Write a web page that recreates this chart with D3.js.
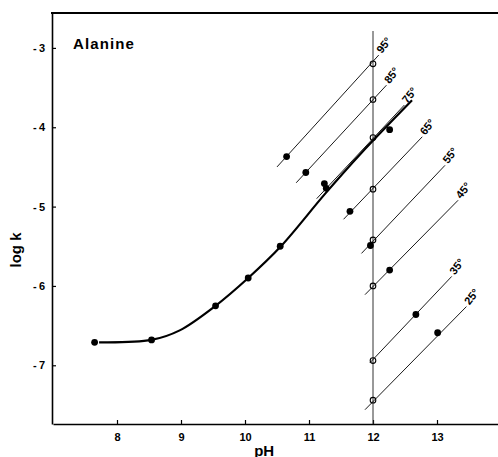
<!DOCTYPE html>
<html>
<head>
<meta charset="utf-8">
<script src="https://cdn.jsdelivr.net/npm/d3@7"></script>
<style>
  body { margin: 0; background: #fff; }
  svg { display: block; }
  text { font-family: "Liberation Sans", Arial, sans-serif; font-weight: bold; fill: #000; }
</style>
</head>
<body>
<div class="chart"></div>
<script>
'use strict';

// fitted curve
var curvePH   = [7.72, 8.54, 8.98, 9.54, 10.05, 10.55, 11.25, 11.80, 12.61];
var curveLogK = [-6.71, -6.68, -6.56, -6.25, -5.90, -5.51, -4.84, -4.34, -3.66];

// measured points (filled circles)
var pointPH   = [7.65, 8.54, 9.54, 10.05, 10.55, 11.24, 11.27, 10.65, 10.95, 11.64, 12.26, 11.96, 12.26, 12.67, 13.01];
var pointLogK = [-6.71, -6.68, -6.25, -5.90, -5.50, -4.71, -4.77, -4.37, -4.57, -5.06, -4.03, -5.49, -5.80, -6.36, -6.59];

// temperature lines
var temps      = ['95°', '85°', '75°', '65°', '55°', '45°', '35°', '25°'];
var lineFromPH = [10.50, 10.80, 11.12, 11.54, 11.82, 11.875, 11.95, 11.875];
var lineFromK  = [-4.50, -4.70, -4.90, -5.16, -5.59, -6.11, -6.97, -7.56];
var lineToPH   = [12.09, 12.21, 12.49, 12.77, 13.125, 13.33, 13.23, 13.46];
var lineToK    = [-3.09, -3.47, -3.72, -4.12, -4.48, -4.92, -5.88, -6.26];
// extrapolated values at pH 12 (open circles)
var openLogK   = [-3.20, -3.65, -4.13, -4.78, -5.42, -6.00, -6.94, -7.44];

var xTicks = [8, 9, 10, 11, 12, 13];
var yTicks = [-3, -4, -5, -6, -7];

var width = 498, height = 457;

var x = d3.scaleLinear().domain([7, 14]).range([53, 501]);
var y = d3.scaleLinear().domain([-7.74, -2.56]).range([424, 13]);

var svg = d3.select('div.chart').append('svg')
    .attr('width', width)
    .attr('height', height);

// axes
var xAxis = d3.axisBottom(x).tickValues(xTicks).tickSize(-4).tickSizeOuter(0).tickPadding(9)
    .tickFormat(d3.format('d'));
var yAxis = d3.axisLeft(y).tickValues(yTicks).tickSize(-4).tickSizeOuter(0).tickPadding(7)
    .tickFormat(function (d) { return '-\u2009' + Math.abs(d); });

var xAx = svg.append('g')
    .attr('transform', 'translate(0,424)')
    .call(xAxis);
var yAx = svg.append('g')
    .attr('transform', 'translate(52,0)')
    .call(yAxis);

[xAx, yAx].forEach(function (ax) {
    ax.select('.domain').attr('stroke', '#000').attr('stroke-width', 1.6);
    ax.selectAll('.tick line').attr('stroke', '#000').attr('stroke-width', 1.2);
    ax.selectAll('.tick text')
        .attr('font-size', 11)
        .attr('font-family', '"Liberation Sans", Arial, sans-serif')
        .attr('font-weight', 'bold');
});

// top frame line
svg.append('line')
    .attr('x1', 51).attr('x2', width)
    .attr('y1', 13).attr('y2', 13)
    .attr('stroke', '#000').attr('stroke-width', 2);

// vertical line at pH 12
svg.append('line')
    .attr('x1', x(12)).attr('x2', x(12))
    .attr('y1', 31).attr('y2', 424)
    .attr('stroke', '#333').attr('stroke-width', 1);

// temperature lines
var tl = svg.append('g');
tl.selectAll('line')
    .data(temps)
    .enter().append('line')
    .attr('x1', function (d, i) { return x(lineFromPH[i]); })
    .attr('y1', function (d, i) { return y(lineFromK[i]); })
    .attr('x2', function (d, i) { return x(lineToPH[i]); })
    .attr('y2', function (d, i) { return y(lineToK[i]); })
    .attr('stroke', '#000')
    .attr('stroke-width', 0.9);

tl.selectAll('text')
    .data(temps)
    .enter().append('text')
    .attr('transform', function (d, i) {
        return 'translate(' + (x(lineToPH[i]) + 3) + ',' + (y(lineToK[i]) - 1) + ') rotate(-52)';
    })
    .attr('font-size', 11)
    .text(function (d) { return d; });

// open circles at pH 12
svg.append('g').selectAll('circle')
    .data(openLogK)
    .enter().append('circle')
    .attr('cx', x(12))
    .attr('cy', function (d) { return y(d); })
    .attr('r', 2.8)
    .attr('fill', 'none')
    .attr('stroke', '#000')
    .attr('stroke-width', 1.1);

// fitted curve
var curve = d3.line()
    .x(function (d) { return x(d[0]); })
    .y(function (d) { return y(d[1]); })
    .curve(d3.curveCatmullRom);

svg.append('path')
    .attr('d', curve(d3.zip(curvePH, curveLogK)))
    .attr('fill', 'none')
    .attr('stroke', '#000')
    .attr('stroke-width', 2.2);

// measured points
svg.append('g').selectAll('circle')
    .data(d3.zip(pointPH, pointLogK))
    .enter().append('circle')
    .attr('cx', function (d) { return x(d[0]); })
    .attr('cy', function (d) { return y(d[1]); })
    .attr('r', 3.4)
    .attr('fill', '#000');

// titles
svg.append('text')
    .attr('x', 73).attr('y', 49)
    .attr('font-size', 15)
    .attr('letter-spacing', 1.1)
    .text('Alanine');

svg.append('text')
    .attr('x', x(10.3)).attr('y', 456)
    .attr('text-anchor', 'middle')
    .attr('font-size', 15)
    .text('pH');

svg.append('text')
    .attr('transform', 'translate(21,250) rotate(-90)')
    .attr('text-anchor', 'middle')
    .attr('font-size', 15)
    .text('log k');
</script>
</body>
</html>
